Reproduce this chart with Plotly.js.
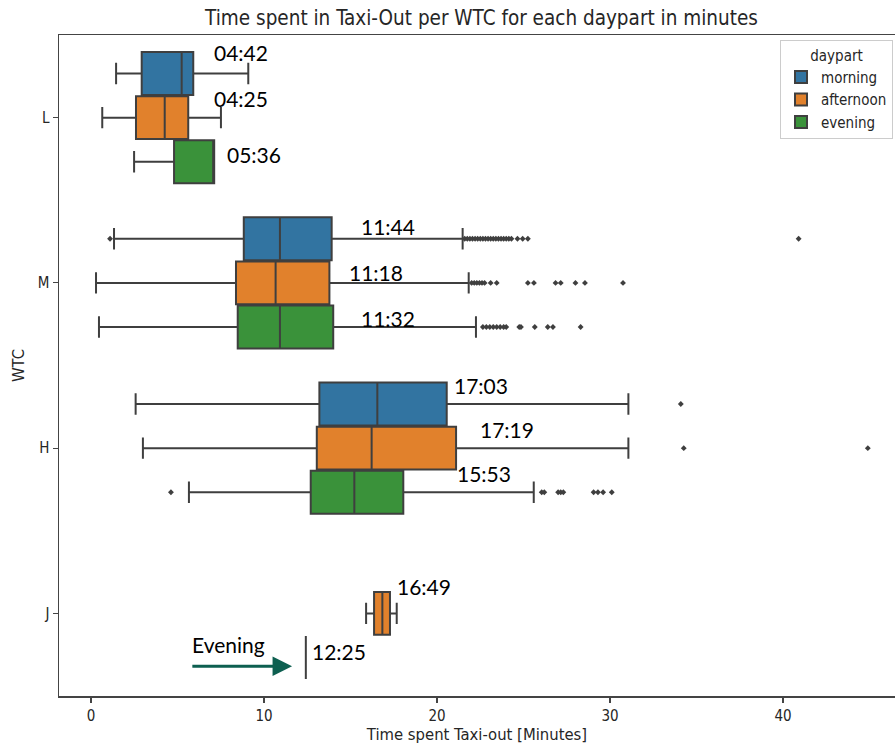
<!DOCTYPE html>
<html>
<head>
<meta charset="utf-8">
<script src="https://cdn.plot.ly/plotly-3.0.1.min.js"></script>
<style>
  html, body { margin: 0; padding: 0; background: #ffffff; overflow: hidden; }
  #chart { width: 895px; height: 744px; }
</style>
</head>
<body>
<div id="chart"></div>
<script>
// Categories
const wtc = ['L', 'M', 'H', 'J'];
const dayparts = ['morning', 'afternoon', 'evening'];

// Box statistics per WTC (L, M, H, J), in minutes; null = no flights
const morningLow  = [1.45, 1.33, 2.58, null];
const morningQ1   = [2.93, 8.83, 13.20, null];
const morningMed  = [5.24, 10.92, 16.55, null];
const morningQ3   = [5.91, 13.91, 20.56, null];
const morningHigh = [9.09, 21.48, 31.06, null];

const afternoonLow  = [0.65, 0.29, 3.00, 15.90];
const afternoonQ1   = [2.60, 8.38, 13.05, 16.36];
const afternoonMed  = [4.26, 10.67, 16.22, 16.84];
const afternoonQ3   = [5.62, 13.78, 21.10, 17.28];
const afternoonHigh = [7.51, 21.83, 31.06, 17.67];

// J evening is a single flight: 12:25
const eveningLow  = [2.49, 0.46, 5.66, 12.4167];
const eveningQ1   = [4.80, 8.48, 12.70, 12.4167];
const eveningMed  = [7.08, 10.92, 15.22, 12.4167];
const eveningQ3   = [7.12, 14.00, 18.05, 12.4167];
const eveningHigh = [7.12, 22.25, 25.59, 12.4167];

// Outliers per WTC
const morningOut = [
  [],
  [1.10, 21.60, 21.75, 21.90, 22.05, 22.20, 22.35, 22.50, 22.65, 22.80, 22.95, 23.10, 23.25,
   23.40, 23.55, 23.70, 23.85, 24.00, 24.15, 24.30, 24.65, 24.95, 25.25, 40.90],
  [34.09],
  []
];
const afternoonOut = [
  [],
  [22.00, 22.15, 22.30, 22.45, 22.60, 22.75, 23.10, 23.45, 25.25, 25.60, 26.85, 27.15,
   28.00, 28.55, 30.75],
  [34.26, 44.90],
  []
];
const eveningOut = [
  [],
  [22.65, 22.85, 23.05, 23.25, 23.45, 23.65, 23.85, 24.00, 24.75, 24.85, 25.65, 26.40,
   26.70, 28.30],
  [4.62, 26.05, 26.20, 27.00, 27.15, 27.30, 29.05, 29.30, 29.60, 30.10],
  []
];

// Mean taxi-out time labels (mm:ss)
const morningMean   = ['04:42', '11:44', '17:03', null];
const afternoonMean = ['04:25', '11:18', '17:19', '16:49'];
const eveningMean   = ['05:36', '11:32', '15:53', '12:25'];

// ---------------------------------------------------------------------------
const colors = ['#3274a1', '#e1812c', '#3a923a'];
const edge = '#3f3f3f';
const boxW = 0.26;
const hueOffset = [-0.2667, 0, 0.2667];

const stats = [
  [morningLow, morningQ1, morningMed, morningQ3, morningHigh, morningOut, morningMean],
  [afternoonLow, afternoonQ1, afternoonMed, afternoonQ3, afternoonHigh, afternoonOut, afternoonMean],
  [eveningLow, eveningQ1, eveningMed, eveningQ3, eveningHigh, eveningOut, eveningMean]
];

// where each mean label sits: [x in minutes, y offset from the category centre]
const labelPos = [
  [[7.0, -0.397 ], [15.5, -0.339], [20.85, -0.380], null],
  [[7.0, -0.113 ], [14.82, -0.060], [22.35, -0.114], [17.55, -0.160]],
  [[7.76,  0.226 ], [15.5,  0.216], [21.06,  0.152], [12.68,  0.232]]
];

const traces = [];
const outX = [], outY = [];
const annotations = [];

stats.forEach((s, h) => {
  const [lo, q1, med, q3, hi, out, mean] = s;
  const idx = wtc.map((_, i) => i).filter(i => med[i] !== null);
  traces.push({
    type: 'box',
    orientation: 'h',
    name: dayparts[h],
    y: idx.map(i => i + hueOffset[h]),
    lowerfence: idx.map(i => lo[i]),
    q1: idx.map(i => q1[i]),
    median: idx.map(i => med[i]),
    q3: idx.map(i => q3[i]),
    upperfence: idx.map(i => hi[i]),
    width: boxW,
    whiskerwidth: 0.5,
    fillcolor: colors[h],
    line: { color: edge, width: 2 },
    boxpoints: false,
    hoverinfo: 'skip'
  });
  out.forEach((vals, i) => {
    vals.forEach(v => { outX.push(v); outY.push(i + hueOffset[h]); });
  });
  mean.forEach((txt, i) => {
    if (txt === null) return;
    const p = labelPos[h][i];
    annotations.push({
      x: p[0], y: i + p[1], xref: 'x', yref: 'y',
      text: txt, showarrow: false, xanchor: 'left', yanchor: 'middle',
      font: { family: 'Lato, Carlito, sans-serif', size: 21, color: '#000000' }
    });
  });
});

traces.push({
  type: 'scatter', mode: 'markers',
  x: outX, y: outY,
  marker: { symbol: 'diamond', size: 4.5, color: edge },
  showlegend: false, hoverinfo: 'skip'
});

// callout for the single evening J flight
annotations.push({
  x: 5.75, y: 3.19, xref: 'x', yref: 'y',
  text: 'Evening', showarrow: false, xanchor: 'left', yanchor: 'middle',
  font: { family: 'Lato, Carlito, sans-serif', size: 21, color: '#000000' }
});
annotations.push({
  x: 11.62, y: 3.320, xref: 'x', yref: 'y',
  ax: 5.77, ay: 3.320, axref: 'x', ayref: 'y',
  text: '', showarrow: true, arrowhead: 2, arrowsize: 1.3, arrowwidth: 3,
  arrowcolor: '#0d5f50'
});

const condensed = 'DejaVu Sans Condensed, DejaVu Sans, sans-serif';
const tickFont = { family: condensed, size: 15, color: '#262626' };
const labelFont = { family: condensed, size: 16.5, color: '#262626' };

const layout = {
  width: 895, height: 744,
  margin: { l: 59, r: 0, t: 35, b: 48 },
  paper_bgcolor: '#ffffff', plot_bgcolor: '#ffffff',
  font: tickFont,
  title: {
    text: 'Time spent in Taxi-Out per WTC for each daypart in minutes',
    font: { family: condensed, size: 20.5, color: '#262626' },
    x: 0.538, xref: 'container', xanchor: 'center',
    y: 0.976, yref: 'container', yanchor: 'middle'
  },
  boxmode: 'overlay',
  xaxis: {
    range: [-1.85, 46.47],
    tickvals: [0, 10, 20, 30, 40],
    showgrid: false, zeroline: false,
    showline: true, linecolor: '#444444', linewidth: 1.5, mirror: true,
    ticks: 'outside', ticklen: 5, tickcolor: '#444444', tickwidth: 1.2,
    tickfont: tickFont,
    title: { text: 'Time spent Taxi-out [Minutes]', font: labelFont, standoff: 5 }
  },
  yaxis: {
    range: [3.5, -0.5],
    tickvals: [0, 1, 2, 3],
    ticktext: wtc,
    showgrid: false, zeroline: false,
    showline: true, linecolor: '#444444', linewidth: 1.5,
    ticks: 'outside', ticklen: 5, tickcolor: '#444444', tickwidth: 1.2,
    tickfont: tickFont,
    title: { text: 'WTC', font: labelFont, standoff: 9 }
  },
  legend: {
    x: 0.9976, xanchor: 'right', y: 0.992, yanchor: 'top',
    bgcolor: 'rgba(255,255,255,0.9)', bordercolor: '#cccccc', borderwidth: 1,
    font: { family: condensed, size: 15, color: '#262626' },
    title: { text: 'daypart', side: 'top center',
             font: { family: condensed, size: 15, color: '#262626' } }
  },
  annotations: annotations,
  showlegend: true
};

Plotly.newPlot('chart', traces, layout, { displayModeBar: false, staticPlot: true });
</script>
</body>
</html>
